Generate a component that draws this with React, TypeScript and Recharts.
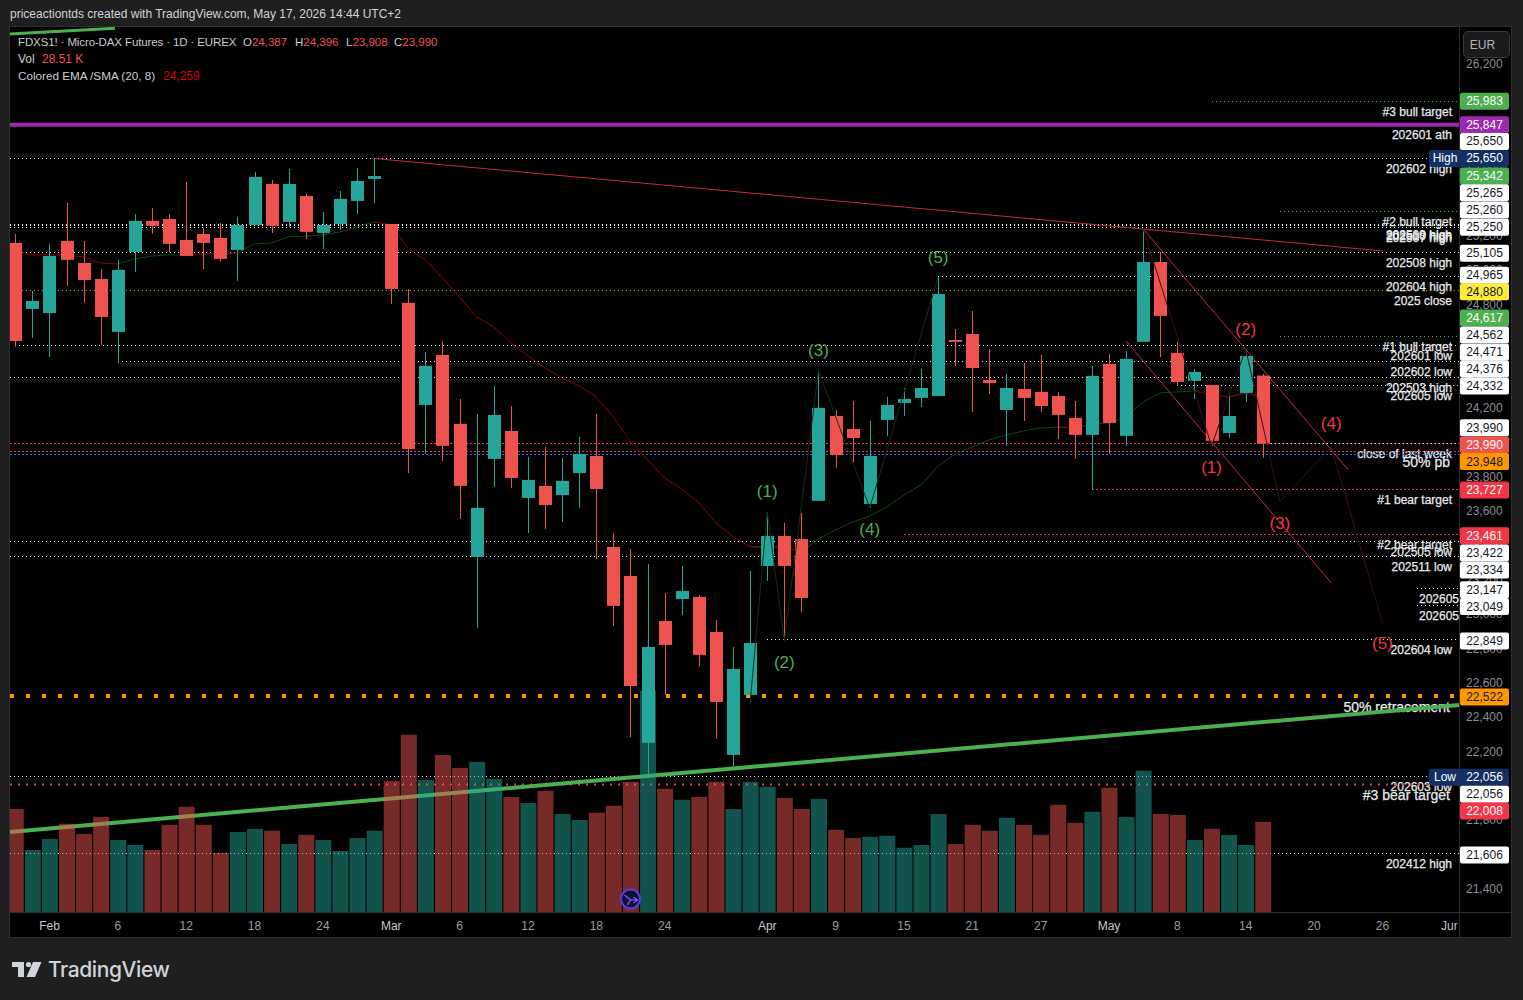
import React from 'react';
import { Bar, ComposedChart, Line, ReferenceDot, ReferenceLine, XAxis, YAxis } from 'recharts';

const UP = '#26a69a';
const DOWN = '#ef5350';
const BEAR = '#f23645';
const BULL = '#4caf50';
const FONT = '"Liberation Sans", sans-serif';

// daily candles, Feb to mid May
const opens = [25159, 24775, 24751, 25170, 25042, 24949, 24641, 25106, 25287, 25298, 25176, 25211, 25188, 25118, 25263, 25502, 25281, 25432, 25217, 25269, 25403, 25531, 25269, 24810, 24216, 24507, 24106, 23332, 23902, 24065, 23675, 23745, 23692, 23820, 23919, 23390, 23221, 22250, 22959, 23087, 23099, 22895, 22180, 22529, 23279, 23454, 23436, 23658, 24152, 24076, 23640, 24129, 24228, 24257, 24268, 24594, 24629, 24362, 24187, 24309, 24292, 24268, 24141, 24042, 24455, 24036, 24583, 25048, 24519, 24356, 24332, 24053, 24286, 24387];
const highs = [25211, 24879, 25153, 25391, 25170, 25007, 25060, 25327, 25362, 25327, 25514, 25246, 25275, 25310, 25572, 25525, 25589, 25444, 25339, 25461, 25595, 25650, 25269, 24891, 24524, 24588, 24251, 24164, 24327, 24210, 23914, 23972, 23908, 24030, 24164, 23471, 23378, 23291, 23122, 23279, 23111, 22965, 22808, 23250, 23594, 23530, 23588, 24414, 24187, 24239, 24123, 24263, 24315, 24426, 24961, 24658, 24763, 24542, 24397, 24460, 24507, 24292, 24239, 24443, 24513, 24530, 25240, 25106, 24583, 24426, 24332, 24286, 24542, 24396];
const lows = [24554, 24606, 24495, 24908, 24810, 24565, 24460, 24990, 25211, 25106, 25083, 25007, 25048, 24938, 25263, 25217, 25252, 25182, 25124, 25234, 25327, 25391, 24804, 23820, 23931, 23890, 23553, 22919, 23739, 23733, 23471, 23495, 23535, 23617, 23320, 22930, 22284, 22056, 22529, 22994, 22692, 22273, 22116, 22482, 23192, 22843, 23012, 23658, 23850, 23884, 23617, 24036, 24152, 24204, 24268, 24443, 24175, 24280, 23978, 24123, 24175, 24018, 23902, 23722, 23931, 23978, 24583, 24495, 24327, 24251, 23978, 24024, 24234, 23908];
const closes = [24588, 24821, 25083, 25060, 24943, 24728, 25002, 25287, 25258, 25153, 25083, 25159, 25066, 25263, 25543, 25258, 25502, 25223, 25263, 25415, 25519, 25548, 24891, 23960, 24443, 23978, 23745, 23617, 24158, 23791, 23780, 23634, 23774, 23931, 23727, 23047, 22581, 22808, 22820, 23134, 22762, 22488, 22680, 22831, 23454, 23279, 23093, 24199, 23925, 24024, 23919, 24216, 24251, 24315, 24862, 24583, 24431, 24344, 24315, 24257, 24210, 24158, 24042, 24385, 24111, 24484, 25048, 24734, 24350, 24408, 24007, 24152, 24501, 23990];
// thousands of contracts
const volumes = [32.6, 19.6, 23.1, 27.9, 24.7, 30.1, 22.8, 21.2, 19.6, 27.6, 33.3, 27.6, 18.7, 25.3, 26.3, 25.7, 21.5, 24.4, 22.8, 19.3, 23.4, 25.7, 41.5, 56.1, 41.8, 49.7, 45.6, 47.5, 42.1, 36.4, 34.5, 38.3, 31.0, 29.1, 31.4, 33.6, 41.2, 70.0, 39.0, 35.5, 36.4, 41.2, 32.6, 41.2, 39.6, 36.1, 32.6, 35.8, 26.0, 23.4, 23.8, 24.1, 20.3, 21.2, 31.0, 21.5, 27.6, 25.7, 29.8, 27.6, 24.4, 33.9, 28.2, 31.7, 39.3, 30.1, 44.7, 31.0, 30.7, 22.8, 26.3, 24.4, 21.2, 28.51];
const emaValues = [25118, 25089, 25089, 25089, 25077, 25042, 25036, 25066, 25083, 25089, 25089, 25095, 25095, 25100, 25153, 25159, 25194, 25199, 25205, 25223, 25252, 25281, 25263, 25124, 25060, 24955, 24844, 24728, 24670, 24577, 24501, 24431, 24373, 24327, 24263, 24146, 24001, 23896, 23791, 23727, 23646, 23530, 23448, 23390, 23390, 23390, 23361, 23437, 23489, 23535, 23570, 23623, 23692, 23751, 23861, 23931, 23972, 24013, 24042, 24065, 24082, 24088, 24082, 24106, 24111, 24146, 24234, 24286, 24292, 24298, 24274, 24263, 24286, 24259];
const emaRedRanges = [[0, 6], [10, 13], [21, 43], [44, 46], [61, 62], [69, 71], [72, 73]];
const emaGreenRanges = [[6, 10], [13, 21], [43, 44], [46, 61], [62, 69], [71, 72]];

const waveUpPoints = [[43, 22482], [44, 23594], [45, 22843], [47, 24414], [50, 23617], [54, 24961]];
const waveDownPoints = [[66, 25240], [70, 23978], [72, 24542], [74, 23652], [77, 23972], [80, 22948]];
const waveUpLabels = [[44, 23716, '(1)'], [45, 22721, '(2)'], [47, 24536, '(3)'], [50, 23495, '(4)'], [54, 25077, '(5)']];
const waveDownLabels = [[70, 23855, '(1)'], [72, 24658, '(2)'], [74, 23530, '(3)'], [77, 24111, '(4)'], [80, 22831, '(5)']];

const X_MIN = -0.31;
const X_MAX = 84.48;
const ROW_COUNT = 85;
const PRICE_DOMAIN = [21266, 26415];

const trendLines = [
  [21, 25650, 80, 25112],
  [66, 25240, 78, 23838],
  [65, 24588, 77, 23181],
];

const levelPrices = [25983, 25847, 25650, 25342, 25265, 25260, 25250, 25105, 24965, 24880, 24617, 24562, 24471, 24376, 24332, 23990, 23990, 23948, 23925, 23727, 23461, 23422, 23334, 23147, 23049, 22849, 22522, 22056, 22008, 21606];
const levelStarts = [70, X_MIN, X_MIN, 74, X_MIN, X_MIN, X_MIN, X_MIN, 54, X_MIN, 74, 0, 6, X_MIN, 68, X_MIN, 73, X_MIN, X_MIN, 63, 52, X_MIN, X_MIN, 82, 82, 44, X_MIN, X_MIN, X_MIN, X_MIN];
const levelLabels = ['#3 bull target', '202601 ath', '202602 high', '#2 bull target', '202509 high', '202510 high', '202507 high', '202508 high', '202604 high', '2025 close', '#1 bull target', '202601 low', '202602 low', '202503 high', '202605 low', 'close of last week', '', '50% pb', '', '#1 bear target', '#2 bear target', '202505 low', '202511 low', '202605', '202605', '202604 low', '50% retracement', '202603 low', '#3 bear target', '202412 high'];
const levelKinds = ['bull', 'ath', 'white', 'bull', 'white', 'white', 'white', 'white', 'white', 'close', 'bull', 'white', 'white', 'white', 'white', 'red', 'white', 'red', 'blue', 'red', 'red', 'white', 'white', 'white', 'white', 'white', 'fib', 'white', 'bear', 'white'];

const levelStyles: Record<string, any> = {
  white: { stroke: '#f0f0f0', strokeWidth: 1, strokeDasharray: '1 3', shapeRendering: 'crispEdges' },
  bull: { stroke: BULL, strokeWidth: 1, strokeDasharray: '1 3', shapeRendering: 'crispEdges' },
  ath: { stroke: '#9c27b0', strokeWidth: 4 },
  close: { stroke: '#b0a320', strokeWidth: 1, strokeDasharray: '1 3', shapeRendering: 'crispEdges' },
  red: { stroke: BEAR, strokeWidth: 1, strokeDasharray: '2 2', shapeRendering: 'crispEdges' },
  blue: { stroke: '#2962ff', strokeWidth: 1, strokeDasharray: '2 2', shapeRendering: 'crispEdges' },
  fib: { stroke: '#ff9800', strokeWidth: 4, strokeDasharray: '4 12' },
  bear: { stroke: BEAR, strokeWidth: 2, strokeDasharray: '2 6' },
};

const badgePrices = [25983, 25847, 25650, 25650, 25342, 25265, 25260, 25250, 25105, 24965, 24880, 24617, 24562, 24471, 24376, 24332, 23990, 23990, 23948, 23727, 23461, 23422, 23334, 23147, 23049, 22849, 22522, 22056, 22056, 22008, 21606];
const badgeKinds = ['bull', 'ath', 'plain', 'navy', 'bull', 'plain', 'plain', 'plain', 'plain', 'plain', 'gold', 'bull', 'plain', 'plain', 'plain', 'plain', 'plain', 'coral', 'orange', 'red', 'red', 'plain', 'plain', 'plain', 'plain', 'plain', 'orange', 'navy', 'plain', 'red', 'plain'];
// TradingView pushes overlapping price tags apart, these are the shifts in px
const badgeShifts = [0, 0, -17, 0, -35.5, -32, -15.5, 0, 1, -1, 1, -18, -10.5, -9, -8.5, 1, -16, 1, 10.6, 1, 1, 11.5, 13.4, 1, 1, 1, 1, 1, 18, 26.5, 1.4];
const badgeTags: Record<string, string> = { 3: 'High', 27: 'Low' };
const badgeColors: Record<string, string[]> = {
  plain: ['#ffffff', '#131722'],
  bull: [BULL, '#ffffff'],
  ath: ['#9c27b0', '#ffffff'],
  navy: ['#132f63', '#ffffff'],
  gold: ['#ffeb3b', '#131722'],
  coral: [DOWN, '#ffffff'],
  orange: ['#ff9800', '#131722'],
  red: [BEAR, '#ffffff'],
};

const priceTicks = [26200, 26000, 25800, 25600, 25400, 25200, 25000, 24800, 24600, 24400, 24200, 24000, 23800, 23600, 23400, 23200, 23000, 22800, 22600, 22400, 22200, 22000, 21800, 21600, 21400];
const dateTickIndexes = [2, 6, 10, 14, 18, 22, 26, 30, 34, 38, 44, 48, 52, 56, 60, 64, 68, 72, 76, 80, 84];
const dateTickLabels = ['Feb', '6', '12', '18', '24', 'Mar', '6', '12', '18', '24', 'Apr', '9', '15', '21', '27', 'May', '8', '14', '20', '26', 'Jun'];

const CHART_MARGIN = { top: 27, right: 15, bottom: 63, left: 10 };

const inRanges = (i: number, ranges: number[][]) => ranges.some(([a, b]) => i >= a && i <= b);

const rows = Array.from({ length: ROW_COUNT }, (_, i) => {
  const up = waveUpPoints.find((p) => p[0] === i);
  const down = waveDownPoints.find((p) => p[0] === i);
  return {
    idx: i,
    open: opens[i],
    high: highs[i],
    low: lows[i],
    close: closes[i],
    volume: volumes[i],
    emaRed: inRanges(i, emaRedRanges) ? emaValues[i] : null,
    emaGreen: inRanges(i, emaGreenRanges) ? emaValues[i] : null,
    waveUp: up ? up[1] : null,
    waveDown: down ? down[1] : null,
  };
});

const Candle = (props: any) => {
  const { x, y, width, height, payload } = props;
  if (payload.open == null) return null;
  const { open, high, low, close } = payload;
  const perUnit = height / (high - low);
  const top = y + (high - Math.max(open, close)) * perUnit;
  const bottom = y + (high - Math.min(open, close)) * perUnit;
  const color = close >= open ? UP : DOWN;
  const mid = Math.round(x + width / 2) + 0.5;
  return (
    <g>
      <line x1={mid} x2={mid} y1={y} y2={y + height} stroke={color} strokeWidth={1} />
      <rect x={mid - 6.5} y={top} width={13} height={Math.max(bottom - top, 1)} fill={color} />
    </g>
  );
};

const VolumeBar = (props: any) => {
  const { x, y, width, height, payload } = props;
  if (payload.volume == null) return null;
  const fill = payload.close >= payload.open ? UP : DOWN;
  return <rect x={x} y={y} width={width} height={height} fill={fill} fillOpacity={0.5} />;
};

const DateTick = (props: any) => {
  const { x, y, payload } = props;
  const label = dateTickLabels[dateTickIndexes.indexOf(payload.value)];
  const isMonth = label.length === 3;
  return (
    <text
      x={x}
      y={y + 10}
      textAnchor="middle"
      fontFamily={FONT}
      fontSize={12}
      fill={isMonth ? '#c4c7ce' : '#9a9da6'}
      style={label === 'Jun' ? { clipPath: 'inset(-4px 3px -4px 0)' } : undefined}
    >
      {label}
    </text>
  );
};

const levelLabelShape = (text: string, kind: string, clipped: boolean) => (props: any) => {
  const big = kind === 'fib' || kind === 'bear' || text === '50% pb';
  return (
    <text
      x={props.cx - (clipped ? 0 : big ? 9 : 7)}
      y={props.cy + 14.5 + (big ? 1 : 0)}
      textAnchor="end"
      fontFamily={FONT}
      fontSize={big ? 14 : 12}
      fill="#e8eaee"
      stroke="#e8eaee"
      strokeWidth={0.25}
    >
      {text}
    </text>
  );
};

const badgeShape = (i: number) => (props: any) => {
  const [bg, fg] = badgeColors[badgeKinds[i]];
  const tag = badgeTags[i];
  const cy = props.cy + badgeShifts[i];
  const left = props.cx + 1;
  return (
    <g fontFamily={FONT} fontSize={12}>
      {tag ? <rect x={left - 31} y={cy - 8.5} width={36} height={17} rx={3} fill={bg} /> : null}
      <rect x={left} y={cy - 8.5} width={49} height={17} rx={2} fill={bg} />
      {tag ? <text x={left - 15} y={cy + 4} textAnchor="middle" fill={fg}>{tag}</text> : null}
      <text x={left + 24.5} y={cy + 4} textAnchor="middle" fill={fg}>
        {badgePrices[i].toLocaleString('en-US')}
      </text>
    </g>
  );
};

const waveLabelShape = (text: string, color: string) => (props: any) => (
  <text x={props.cx} y={props.cy + 6} textAnchor="middle" fontFamily={FONT} fontSize={17} fill={color}>
    {text}
  </text>
);

const MarkIcon = (props: any) => (
  <g>
    <circle cx={props.cx} cy={props.cy} r={9.5} fill="#101030" stroke="#5b3cf0" strokeWidth={2} />
    <path
      d={`M${props.cx - 6} ${props.cy - 4} L${props.cx} ${props.cy + 1} L${props.cx - 3} ${props.cy + 6} M${props.cx} ${props.cy + 1} H${props.cx + 7} M${props.cx + 3} ${props.cy - 2} L${props.cx + 7} ${props.cy + 1} L${props.cx + 3} ${props.cy + 4}`}
      fill="none"
      stroke="#7a5cff"
      strokeWidth={1.3}
    />
  </g>
);

const legendText: React.CSSProperties = { position: 'absolute', whiteSpace: 'nowrap', fontSize: 12, lineHeight: '14px' };
const layer: React.CSSProperties = { position: 'absolute', left: 0, top: 0 };

export default function App() {
  return (
    <div style={{ position: 'absolute', left: 0, top: 0, width: 1523, height: 1000, background: '#1f1f1f', fontFamily: FONT, overflow: 'hidden' }}>
      <div style={{ ...legendText, left: 10, top: 7, color: '#d1d4dc', fontSize: 12 }}>
        priceactiontds created with TradingView.com, May 17, 2026 14:44 UTC+2
      </div>
      <div style={{ position: 'absolute', left: 9, top: 26, width: 1503, height: 912, background: '#000', boxSizing: 'border-box', border: '1px solid #2e2e2e' }} />
      <div style={{ position: 'absolute', left: 1459, top: 27, width: 1, height: 910, background: '#2a2e33' }} />
      <div style={{ position: 'absolute', left: 10, top: 912, width: 1501, height: 1, background: '#2a2e33' }} />

      {/* price scale sits in its own layer so the price tags can cover its labels */}
      <div style={layer}>
        <ComposedChart width={1523} height={1000} data={rows} margin={CHART_MARGIN}>
          <XAxis dataKey="idx" type="number" domain={[X_MIN, X_MAX]} allowDataOverflow height={25} tick={false} axisLine={false} tickLine={false} />
          <YAxis
            orientation="right"
            type="number"
            width={49}
            domain={PRICE_DOMAIN}
            allowDataOverflow
            ticks={priceTicks}
            interval={0}
            axisLine={false}
            tickLine={false}
            tick={{ fill: '#8b8e96', fontSize: 12, fontFamily: FONT, dx: -1 }}
            tickFormatter={(v: number) => v.toLocaleString('en-US')}
          />
        </ComposedChart>
      </div>

      <div style={layer}>
        <ComposedChart width={1523} height={1000} data={rows} margin={CHART_MARGIN}>
          <XAxis
            dataKey="idx"
            type="number"
            domain={[X_MIN, X_MAX]}
            allowDataOverflow
            ticks={dateTickIndexes}
            interval={0}
            height={25}
            axisLine={false}
            tickLine={false}
            tick={<DateTick />}
          />
          <XAxis xAxisId="vol" dataKey="idx" type="number" domain={[X_MIN, X_MAX]} allowDataOverflow hide />
          <YAxis orientation="right" type="number" width={49} domain={PRICE_DOMAIN} allowDataOverflow tick={false} axisLine={false} tickLine={false} />
          <YAxis yAxisId="vol" domain={[0, 280]} hide />

          {levelLabels.map((text, i) =>
            text ? (
              <ReferenceDot
                key={`lbl-${i}`}
                x={X_MAX}
                y={levelPrices[i]}
                r={0}
                zIndex={20}
                ifOverflow="visible"
                shape={levelLabelShape(text, levelKinds[i], text === '202605')}
              />
            ) : null
          )}
          {levelPrices.map((price, i) => (
            <ReferenceLine
              key={`lvl-${i}`}
              zIndex={30}
              segment={[{ x: levelStarts[i], y: price }, { x: X_MAX, y: price }]}
              {...levelStyles[levelKinds[i]]}
            />
          ))}
          <ReferenceLine
            zIndex={40}
            segment={[{ x: X_MIN, y: 21732 }, { x: X_MAX, y: 22471 }]}
            stroke={BULL}
            strokeWidth={4}
          />
          <ReferenceLine
            zIndex={40}
            segment={[{ x: X_MIN, y: 26374 }, { x: 5.84, y: 26408 }]}
            stroke={BULL}
            strokeWidth={3}
          />
          {trendLines.map(([x1, y1, x2, y2], i) => (
            <ReferenceLine key={`trend-${i}`} zIndex={45} segment={[{ x: x1, y: y1 }, { x: x2, y: y2 }]} stroke="#c8283c" strokeWidth={1} />
          ))}

          <Bar xAxisId="vol" yAxisId="vol" dataKey="volume" barSize={16} zIndex={50} shape={<VolumeBar />} isAnimationActive={false} />
          <Line dataKey="emaGreen" zIndex={60} stroke="#0c4a10" strokeWidth={1} dot={false} activeDot={false} isAnimationActive={false} />
          <Line dataKey="emaRed" zIndex={60} stroke="#8e0000" strokeWidth={1} dot={false} activeDot={false} isAnimationActive={false} />
          <Bar
            dataKey={(row: any) => (row.low == null ? null : [row.low, row.high])}
            barSize={13}
            zIndex={70}
            shape={<Candle />}
            isAnimationActive={false}
          />
          <Line dataKey="waveUp" zIndex={80} connectNulls stroke="#12301a" strokeWidth={1} dot={false} activeDot={false} isAnimationActive={false} />
          <Line dataKey="waveDown" zIndex={80} connectNulls stroke="#3a1014" strokeWidth={1} dot={false} activeDot={false} isAnimationActive={false} />

          {waveUpLabels.map(([x, y, text]) => (
            <ReferenceDot key={`up-${x}`} x={x as number} y={y as number} r={0} zIndex={90} ifOverflow="visible" shape={waveLabelShape(text as string, BULL)} />
          ))}
          {waveDownLabels.map(([x, y, text]) => (
            <ReferenceDot key={`down-${x}`} x={x as number} y={y as number} r={0} zIndex={90} ifOverflow="visible" shape={waveLabelShape(text as string, BEAR)} />
          ))}
          <ReferenceDot x={36} y={21342} r={0} zIndex={90} ifOverflow="visible" shape={<MarkIcon />} />

          {badgePrices.map((price, i) => (
            <ReferenceDot key={`badge-${i}`} x={X_MAX} y={price} r={0} zIndex={600 + i} ifOverflow="visible" shape={badgeShape(i)} />
          ))}
        </ComposedChart>
      </div>

      <div style={{ ...legendText, left: 18, top: 35, color: '#c8cbd2', fontSize: 11.5, letterSpacing: -0.12 }}>FDXS1! · Micro-DAX Futures · 1D · EUREX</div>
      <div style={{ ...legendText, left: 243, top: 35, color: '#c8cbd2', fontSize: 11.5 }}>O<span style={{ color: DOWN }}>24,387</span></div>
      <div style={{ ...legendText, left: 295, top: 35, color: '#c8cbd2', fontSize: 11.5 }}>H<span style={{ color: DOWN }}>24,396</span></div>
      <div style={{ ...legendText, left: 346, top: 35, color: '#c8cbd2', fontSize: 11.5 }}>L<span style={{ color: DOWN }}>23,908</span></div>
      <div style={{ ...legendText, left: 394, top: 35, color: '#c8cbd2', fontSize: 11.5 }}>C<span style={{ color: DOWN }}>23,990</span></div>
      <div style={{ ...legendText, left: 18, top: 52, color: '#c8cbd2' }}>Vol</div>
      <div style={{ ...legendText, left: 42, top: 52, color: DOWN }}>28.51 K</div>
      <div style={{ ...legendText, left: 18, top: 69, color: '#c8cbd2', fontSize: 11.7 }}>Colored EMA /SMA (20, 8)</div>
      <div style={{ ...legendText, left: 163, top: 69, color: '#d80000' }}>24,259</div>

      <div style={{ position: 'absolute', left: 1463, top: 31, width: 37, height: 25, paddingRight: 8, border: '1px solid #3a3a3a', borderRadius: 5, background: '#1a1a1a', color: '#b2b5be', fontSize: 12, lineHeight: '26px', textAlign: 'center' }}>
        EUR
      </div>

      <svg style={{ position: 'absolute', left: 0, top: 950 }} width={200} height={40}>
        <path d="M12 12 H24 V27 H18 V17 H12 Z" fill="#d1d4dc" />
        <circle cx={28.5} cy={14.5} r={2.6} fill="#d1d4dc" />
        <path d="M33 12 H41.5 L35 27 H26.5 Z" fill="#d1d4dc" />
        <text x={48} y={27} fontFamily="Inter, sans-serif" fontSize={21} fontWeight={500} fill="#d1d4dc" letterSpacing={-0.4}>
          TradingView
        </text>
      </svg>
    </div>
  );
}
